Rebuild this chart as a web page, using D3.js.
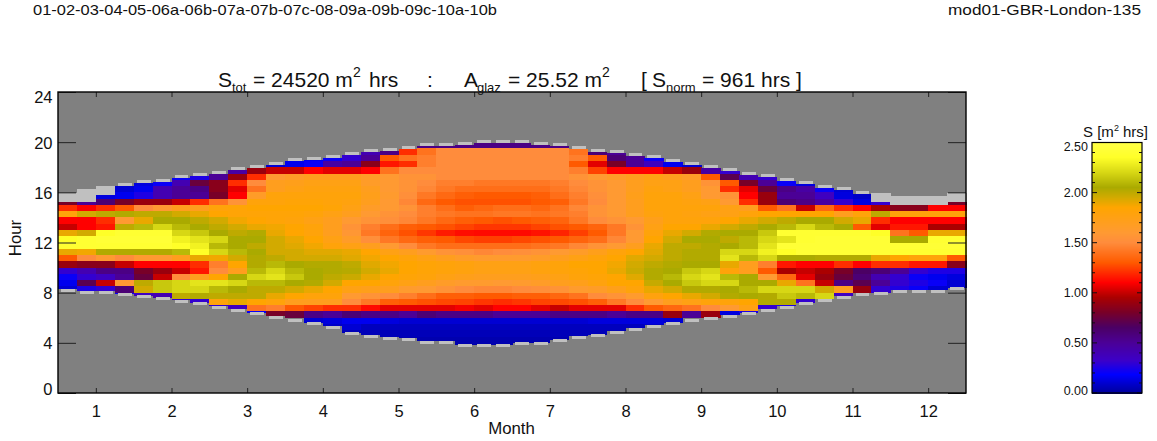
<!DOCTYPE html>
<html><head><meta charset="utf-8">
<script src="https://cdn.jsdelivr.net/npm/d3@7/dist/d3.min.js"></script>
<style>html,body{margin:0;padding:0;background:#fff}svg{display:block}text{font-family:"Liberation Sans",Arial,sans-serif;fill:#111}</style>
</head><body><svg id="c" width="1157" height="441"></svg>
<script>
const _ = null;
const headerLeft = "01-02-03-04-05-06a-06b-07a-07b-07c-08-09a-09b-09c-10a-10b";
const headerRight = "mod01-GBR-London-135";
const monthTicks = [1,2,3,4,5,6,7,8,9,10,11,12];
const hourTicks = [0,4,8,12,16,20,24];
const legendTicks = [0,0.5,1,1.5,2,2.5];
const legendMinor = [0.1,0.2,0.3,0.4,0.6,0.7,0.8,0.9,1.1,1.2,1.3,1.4,1.6,1.7,1.8,1.9,2.1,2.2,2.3,2.4];
const colorStops = [0,0.08,0.18,0.32,0.5,0.65,0.8,0.95,1.1,1.3,1.5,1.6,1.85,1.95,2.05,2.2,2.35,2.5];
const colorValues = ["#0000a0","#0000c8","#0000ff","#3c00c8","#4b0096","#4b0064","#780028","#aa0000","#ff0000","#ff5a00","#ff8c3c","#ff9a32","#ffa500","#d2aa00","#aaaa00","#d7d714","#ffff28","#ffff46"];
const sunsetHour = [15.95,16.25,16.5,16.75,17,17.05,17.4,17.55,17.7,18,18.2,18.4,18.75,18.8,19,19.2,19.45,19.55,19.7,19.95,19.95,20,20.2,20.2,20.2,20,19.95,19.7,19.45,19.35,19.15,19,18.65,18.4,18.2,17.95,17.6,17.45,17.15,16.9,16.6,16.4,16.1,15.95,15.7,15.7,15.7,15.95];
const sunsetRimDepth = [.7,1,.7,.25,.25,.25,.25,.25,.25,.25,.25,.25,.25,.25,.25,.25,.25,.25,.25,.25,.25,.25,.25,.25,.25,.25,.25,.25,.25,.25,.25,.25,.25,.25,.25,.25,.25,.25,.25,.25,.25,.25,.25,.7,.7,.7,.7,.7];
const sunriseHour = [8.05,7.9,7.9,7.7,7.55,7.4,7.2,7,6.7,6.45,6.2,5.9,5.65,5.4,5.1,4.6,4.4,4.25,4.15,3.9,3.9,3.65,3.65,3.65,3.8,3.8,4.05,4.3,4.45,4.7,4.95,5.2,5.4,5.65,5.8,6,6.2,6.45,6.7,7,7.25,7.5,7.75,7.8,8,8,8,8.2];
const rimDepth = 0.25;

const r2000 = [_,_,_,_,_,_,_,_,_,_,_,_,_,_,_,_, _,_,_,_,_,_,.55,.55,.55,_,_,_,_,_,_,_, _,_,_,_,_,_,_,_,_,_,_,_,_,_,_,_];
const r1950 = [_,_,_,_,_,_,_,_,_,_,_,_,_,_,_,_, _,_,_,.55,.55,.55,.55,.55,.55,.55,.55,_,_,_,_,_, _,_,_,_,_,_,_,_,_,_,_,_,_,_,_,_];
const r1900 = [_,_,_,_,_,_,_,_,_,_,_,_,_,_,_,_, .4,.55,1.2,1.4,1.5,1.5,1.5,1.5,1.5,1.5,1.5,1.4,.6,.5,.4,_, _,_,_,_,_,_,_,_,_,_,_,_,_,_,_,_];
const r1850 = [_,_,_,_,_,_,_,_,_,_,_,_,_,.15,.2,.3, .5,1.3,1.4,1.45,1.5,1.5,1.5,1.5,1.5,1.5,1.5,1.45,1.3,.6,.5,.2, _,_,_,_,_,_,_,_,_,_,_,_,_,_,_,_];
const r1800 = [_,_,_,_,_,_,_,_,_,_,_,.1,.15,.2,.45,.5, .85,1.15,1.2,1.45,1.5,1.5,1.5,1.5,1.5,1.5,1.5,1.3,1.05,.8,.5,.35, .15,.1,_,_,_,_,_,_,_,_,_,_,_,_,_,_];
const r1750 = [_,_,_,_,_,_,_,_,_,.45,.9,1,1,1.1,1.05,1.05, 1.1,1.4,1.5,1.5,1.5,1.5,1.5,1.5,1.5,1.5,1.5,1.45,1.25,1.1,1.1,1.1, 1,.9,.45,.3,_,_,_,_,_,_,_,_,_,_,_,_];
const r1700 = [_,_,_,_,_,_,.2,.25,.5,.9,1.2,1.6,1.65,1.7,1.7,1.7, 1.65,1.6,1.55,1.55,1.5,1.5,1.5,1.5,1.5,1.5,1.5,1.55,1.6,1.65,1.7,1.75, 1.7,1.65,1.3,.7,.4,.3,_,_,_,_,_,_,_,_,_,_];
const r1650 = [_,_,_,.1,.12,.2,.4,.75,.85,1.2,1.5,1.7,1.72,1.75,1.75,1.75, 1.65,1.6,1.55,1.5,1.45,1.45,1.42,1.42,1.42,1.42,1.45,1.5,1.55,1.6,1.7,1.75, 1.75,1.7,1.55,1.3,.8,.5,.2,.12,_,_,_,_,_,_,_,_];
const r1600 = [_,_,_,.1,.15,.4,.5,.55,.85,1.05,1.4,1.7,1.75,1.78,1.78,1.78, 1.7,1.6,1.55,1.48,1.42,1.38,1.38,1.38,1.38,1.38,1.42,1.48,1.55,1.6,1.7,1.78, 1.75,1.7,1.6,1.2,1.05,.75,.55,.45,.2,.1,_,_,_,_,_,_];
const r1550 = [_,_,.12,.15,.25,.4,.5,.5,.8,1.1,1.65,1.8,1.8,1.8,1.8,1.8, 1.72,1.62,1.52,1.42,1.36,1.32,1.3,1.3,1.3,1.32,1.38,1.45,1.52,1.6,1.72,1.8, 1.8,1.75,1.6,1.55,1.1,.9,.5,.5,.35,.12,.08,.08,_,_,_,_];
const r1500 = [.8,.5,.6,.8,.9,.9,1,1.2,1.4,1.55,1.8,1.8,1.82,1.82,1.8,1.78, 1.7,1.6,1.48,1.36,1.3,1.28,1.28,1.28,1.28,1.3,1.32,1.42,1.5,1.6,1.7,1.8, 1.8,1.78,1.75,1.6,1.2,.9,.6,.55,.45,.3,.12,.3,.8,.8,.8,.8];
const r1450 = [1.2,1.1,1.2,1.3,1.5,1.6,1.7,1.7,1.8,1.82,1.85,1.85,1.85,1.85,1.82,1.75, 1.65,1.6,1.55,1.45,1.38,1.32,1.35,1.38,1.38,1.35,1.4,1.48,1.55,1.6,1.7,1.8, 1.8,1.8,1.8,1.75,1.7,1.3,1.4,1,1.35,1.2,1.1,.95,.85,.85,1.1,1.1];
const r1400 = [1.8,1.95,2,2.03,2,2,1.95,1.9,1.85,1.82,1.82,1.82,1.82,1.8,1.75,1.7, 1.6,1.55,1.5,1.45,1.42,1.4,1.4,1.42,1.42,1.4,1.42,1.45,1.55,1.6,1.7,1.78, 1.8,1.78,1.75,1.75,1.8,1.85,1.85,1.85,1.85,1.7,1.8,2,1.8,1.8,1.8,1.8];
const r1350 = [1.1,1.1,1.2,1.6,1.9,2.05,2.05,2,1.95,1.88,1.85,1.82,1.8,1.75,1.7,1.6, 1.55,1.52,1.48,1.42,1.36,1.32,1.3,1.28,1.3,1.32,1.34,1.42,1.5,1.55,1.6,1.72, 1.8,1.8,1.8,1.85,1.9,1.95,2,2.05,2.05,1.95,1.9,1.2,1.1,1.1,1.1,1.1];
const r1300 = [1,1.1,1.15,2,2.1,2.2,2.1,2.05,2,1.95,1.9,1.88,1.85,1.8,1.7,1.55, 1.45,1.38,1.32,1.3,1.28,1.25,1.22,1.22,1.22,1.25,1.28,1.3,1.34,1.42,1.55,1.75, 1.85,1.85,1.9,1.95,2,2.05,2.1,2.2,2.1,2.05,1.3,1.05,1.15,1.15,.95,.95];
const r1250 = [1.9,1.95,2.35,2.4,2.4,2.4,2.2,2.15,2.05,2,2.03,1.9,1.85,1.8,1.7,1.58, 1.42,1.34,1.28,1.22,1.16,1.13,1.12,1.12,1.12,1.14,1.18,1.24,1.3,1.42,1.6,1.8, 1.9,1.95,2.03,2.05,2.05,2.15,2.4,2.4,2.4,2.4,2.4,2.35,1.4,1.3,1.9,1.9];
const r1200 = [2.35,2.4,2.42,2.42,2.42,2.42,2.3,2.25,2.2,2.05,2.05,1.95,1.9,1.85,1.75,1.65, 1.52,1.42,1.36,1.32,1.3,1.26,1.24,1.24,1.26,1.28,1.3,1.34,1.38,1.48,1.6,1.85, 1.95,2.05,2.05,2,2.1,2.2,2.25,2.4,2.42,2.42,2.42,2.42,2.05,2.05,2.4,2.4];
const r1150 = [2.4,2.4,2.4,2.4,2.4,2.4,2.35,2.3,2.1,2.05,2,1.95,1.92,1.88,1.8,1.75, 1.7,1.6,1.5,1.42,1.38,1.38,1.38,1.38,1.38,1.4,1.42,1.48,1.55,1.6,1.7,1.9, 2,2,2.03,2.05,2.1,2.25,2.42,2.42,2.42,2.42,2.42,2.42,2.42,2.42,2.42,2.42];
const r1100 = [1.9,1.88,2.03,2.03,2.03,2.03,2.1,2.35,2.2,2.1,2.05,1.95,1.95,1.92,1.92,1.9, 1.85,1.75,1.7,1.62,1.55,1.52,1.48,1.5,1.52,1.55,1.6,1.65,1.72,1.8,1.85,1.92, 2,2.03,2.03,2.2,2.2,2.3,2.35,2.42,2.42,2.42,2.42,2.42,2.4,2.4,2.4,2.4];
const r1050 = [1.3,1.5,1.6,1.5,1.6,1.6,1.7,1.9,1.88,1.95,2.03,2,1.95,1.95,1.95,1.92, 1.88,1.85,1.8,1.75,1.7,1.65,1.62,1.62,1.62,1.65,1.7,1.75,1.8,1.85,1.92,1.95, 2,2.03,2.03,2.25,2.1,2.2,2.05,2.05,2.03,2.03,2.03,1.9,1.85,1.8,1.8,1.3];
const r1000 = [.9,.85,.85,1,1.1,1.1,1.1,1.2,1.45,1.85,2.03,2.1,2.05,2.03,2.03,2, 1.92,1.88,1.85,1.82,1.8,1.78,1.75,1.75,1.75,1.78,1.8,1.85,1.85,1.88,1.95,2, 2.03,2.05,2.05,1.9,1.7,1.45,1.15,1.1,1.1,1.2,1.1,1.2,1.2,1.15,1.15,.85];
const r0950 = [.3,.4,.55,.55,.8,.9,1,1.15,1.5,1.7,2.1,2.2,2.1,2.05,2.03,2.02, 1.95,1.9,1.85,1.82,1.8,1.78,1.75,1.75,1.75,1.78,1.8,1.82,1.85,1.9,1.97,2.03, 2.05,2.15,2.2,1.8,1.7,1.3,.95,1,.95,.8,.65,.6,.5,.3,.25,.25];
const r0900 = [.2,.3,.35,.5,.75,1,1.5,1.7,1.85,2.05,2.2,2.25,2.15,2.05,2,1.97, 1.9,1.85,1.82,1.8,1.75,1.72,1.7,1.7,1.7,1.72,1.75,1.8,1.82,1.85,1.92,2.03, 2.1,2.2,2.25,2.1,2.05,1.6,1.35,1.05,.9,.75,.6,.4,.3,.2,.15,.12];
const r0850 = [.15,.7,1,1.6,2,2.15,2.2,2.25,2.25,2.2,2.1,2.1,2.05,2.03,1.95,1.85, 1.85,1.8,1.75,1.7,1.65,1.62,1.62,1.6,1.62,1.65,1.7,1.72,1.78,1.85,1.85,1.98, 2.05,2.15,2.2,2.2,2.05,2.05,1.9,1.4,1,.55,.7,.5,.3,.25,.2,.1];
const r0800 = [.1,.25,.3,.6,1.95,2.15,2.2,2.2,2.1,2.05,2,2,1.95,1.9,1.85,1.75, 1.72,1.7,1.62,1.6,1.55,1.5,1.48,1.48,1.5,1.52,1.55,1.62,1.65,1.72,1.8,1.9, 1.95,2.03,2.03,2.05,2.1,2.2,2.2,2.2,1.95,1.7,.9,.3,.25,.2,.1,.1];
const r0750 = [_,_,_,.2,.35,.4,2,2.03,2,2,2,1.9,1.85,1.8,1.8,1.6, 1.55,1.5,1.45,1.38,1.32,1.32,1.3,1.3,1.32,1.32,1.35,1.4,1.5,1.55,1.62,1.78, 1.85,1.9,1.95,2.03,2.05,2.03,2.15,2.1,2.2,.35,.35,.3,_,_,_,_];
const r0700 = [_,_,_,_,_,_,.3,.3,1.8,1.9,1.85,1.8,1.7,1.7,1.7,1.5, 1.42,1.32,1.3,1.28,1.26,1.25,1.22,1.2,1.22,1.25,1.26,1.28,1.32,1.42,1.5,1.6, 1.7,1.75,1.8,1.8,1.85,2.03,2.03,.3,_,_,_,_,_,_,_,_];
const r0650 = [_,_,_,_,_,_,_,_,.3,.35,1.4,1.45,1.3,1.25,1.2,1.2, 1.12,1.05,1.05,1.05,1.05,1.08,1.05,1.1,1.1,1.05,1,1.05,1.05,1.05,1.2,1.3, 1.35,1.4,1.5,1.6,1.75,.3,.25,_,_,_,_,_,_,_,_,_];
const r0600 = [_,_,_,_,_,_,_,_,_,_,.2,.8,.75,.55,.5,.6, .55,.55,.5,.6,.55,.55,.55,.5,.5,.5,.55,.55,.55,.5,.55,.55, .9,.5,.9,.12,.25,_,_,_,_,_,_,_,_,_,_,_];
const r0550 = [_,_,_,_,_,_,_,_,_,_,_,_,_,.1,.12,.15, .15,.12,.1,.1,.1,.1,.1,.1,.1,.1,.1,.1,.12,.12,.12,.12, .1,_,_,_,_,_,_,_,_,_,_,_,_,_,_,_];
const r0500 = [_,_,_,_,_,_,_,_,_,_,_,_,_,_,.08,.1, .06,.06,.06,.06,.06,.06,.06,.06,.06,.06,.06,.06,.06,.06,.06,.08, _,_,_,_,_,_,_,_,_,_,_,_,_,_,_,_];
const r0450 = [_,_,_,_,_,_,_,_,_,_,_,_,_,_,_,.05, .05,.05,.05,.05,.05,.05,.05,.05,.05,.05,.05,.05,.05,.05,_,_, _,_,_,_,_,_,_,_,_,_,_,_,_,_,_,_];
const r0400 = [_,_,_,_,_,_,_,_,_,_,_,_,_,_,_,_, _,_,.03,.03,.03,.03,.03,.03,.03,.03,.03,_,_,_,_,_, _,_,_,_,_,_,_,_,_,_,_,_,_,_,_,_];
const r0350 = [_,_,_,_,_,_,_,_,_,_,_,_,_,_,_,_, _,_,_,_,_,.03,.03,.03,_,_,_,_,_,_,_,_, _,_,_,_,_,_,_,_,_,_,_,_,_,_,_,_];
const rowHours = [20,19.5,19,18.5,18,17.5,17,16.5,16,15.5,15,14.5,14,13.5,13,12.5,12,11.5,11,10.5,10,9.5,9,8.5,8,7.5,7,6.5,6,5.5,5,4.5,4,3.5];
const rows = [r2000,r1950,r1900,r1850,r1800,r1750,r1700,r1650,r1600,r1550,r1500,r1450,r1400,r1350,r1300,r1250,r1200,r1150,r1100,r1050,r1000,r0950,r0900,r0850,r0800,r0750,r0700,r0650,r0600,r0550,r0500,r0450,r0400,r0350];

const svg = d3.select("#c");
const plot = {l:58,r:966,t:92,b:393};
const x = d3.scaleLinear().domain([0.5,12.5]).range([plot.l,plot.r]);
const y = d3.scaleLinear().domain([0,24]).range([plot.b,plot.t]);
const color = d3.scaleLinear().domain(colorStops).range(colorValues).clamp(true);
const colX = k => x(0.5+k/4);

svg.append("text").attr("x",33).attr("y",14.5).attr("font-size",14.5).attr("textLength",464).attr("lengthAdjust","spacingAndGlyphs").text(headerLeft);
svg.append("text").attr("x",948).attr("y",14.5).attr("font-size",14.5).attr("textLength",193).attr("lengthAdjust","spacingAndGlyphs").text(headerRight);

svg.append("rect").attr("x",plot.l).attr("y",plot.t).attr("width",plot.r-plot.l).attr("height",plot.b-plot.t).attr("fill","#808080");

const cells=[];
rows.forEach((row,ri)=>row.forEach((v,k)=>{
  if(v===null) return;
  const top=Math.min(rowHours[ri]+.5,sunsetHour[k]-sunsetRimDepth[k]);
  const bot=Math.max(rowHours[ri],sunriseHour[k]+rimDepth);
  if(top>bot) cells.push({k,top,bot,v});
}));
const heat=svg.append("g").attr("shape-rendering","crispEdges");
heat.selectAll("rect").data(cells).join("rect")
  .attr("x",d=>colX(d.k)).attr("width",d=>colX(d.k+1)-colX(d.k)+.5)
  .attr("y",d=>y(d.top)).attr("height",d=>y(d.bot)-y(d.top)+.5)
  .attr("fill",d=>color(d.v));
const rim=svg.append("g").attr("fill","#c0c0c0").attr("shape-rendering","crispEdges");
rim.selectAll("rect.t").data(sunsetHour).join("rect").attr("class","t")
  .attr("x",(d,k)=>colX(k)+(sunsetRimDepth[k]>.3?0:3)).attr("width",(d,k)=>colX(1)-colX(0)-(sunsetRimDepth[k]>.3?-.5:5))
  .attr("y",d=>y(d)).attr("height",(d,k)=>y(d-sunsetRimDepth[k])-y(d));
rim.selectAll("rect.b").data(sunriseHour).join("rect").attr("class","b")
  .attr("x",(d,k)=>colX(k)+3).attr("width",colX(1)-colX(0)-5)
  .attr("y",d=>y(d+rimDepth)).attr("height",d=>y(d)-y(d+rimDepth));

function styleAxis(g){g.select(".domain").remove();g.selectAll("line").attr("stroke","#222").attr("stroke-width",1);g.selectAll("text").attr("font-size",16.5).attr("fill","#111").attr("font-family",'"Liberation Sans",Arial,sans-serif');}
svg.append("g").attr("transform",`translate(0,${plot.b})`).call(d3.axisBottom(x).tickValues(monthTicks).tickFormat(d3.format("d")).tickSize(-5).tickPadding(12)).call(styleAxis);
svg.append("g").attr("transform",`translate(0,${plot.t})`).call(d3.axisTop(x).tickValues(monthTicks).tickFormat("").tickSize(-5)).call(styleAxis);
svg.append("g").attr("transform",`translate(${plot.l},0)`).call(d3.axisLeft(y).tickValues(hourTicks).tickFormat(d3.format("d")).tickSize(-18).tickPadding(5.5)).call(styleAxis)
  .selectAll(".tick text").attr("dy",d=>d===24?"0.62em":(d===0?"0.08em":"0.36em"));
svg.append("g").attr("transform",`translate(${plot.r},0)`).call(d3.axisRight(y).tickValues(hourTicks).tickFormat("").tickSize(-18)).call(styleAxis);
svg.append("rect").attr("x",plot.l).attr("y",plot.t).attr("width",plot.r-plot.l).attr("height",plot.b-plot.t).attr("fill","none").attr("stroke","#000").attr("stroke-width",1.4);
svg.append("text").attr("x",511.5).attr("y",434).attr("font-size",16.8).attr("text-anchor","middle").text("Month");
svg.append("text").attr("transform","translate(21,238) rotate(-90)").attr("font-size",16.8).attr("text-anchor","middle").text("Hour");

const titleParts=[[218,87,21,"S"],[232,92,13,"tot"],[253,87,21,"= 24520 m"],[353,77,14,"2"],[369,87,21,"hrs"],[427,87,21,":"],[464,87,21,"A"],[477,92,13,"glaz"],[508,87,21,"= 25.52 m"],[602,77,14,"2"],[641,87,21,"["],[652,87,21,"S"],[666,92,13,"norm"],[702,87,21,"= 961 hrs ]"]];
svg.append("g").selectAll("text").data(titleParts).join("text").attr("x",d=>d[0]).attr("y",d=>d[1]).attr("font-size",d=>d[2]).text(d=>d[3]);

const leg={l:1092,r:1142};
const ly=d3.scaleLinear().domain([0,2.5]).range([393,142.5]);
svg.append("g").attr("shape-rendering","crispEdges").selectAll("rect").data(d3.range(0,2.5,0.01)).join("rect")
  .attr("x",leg.l).attr("width",leg.r-leg.l).attr("y",d=>ly(d+0.01)).attr("height",d=>ly(d)-ly(d+0.01)+.5).attr("fill",d=>color(d));
const legG=svg.append("g");
function ticks(vals,len){legG.selectAll(null).data(vals).join("line").attr("x1",leg.l).attr("x2",leg.l+len).attr("y1",d=>ly(d)).attr("y2",d=>ly(d)).attr("stroke","#111");
 legG.selectAll(null).data(vals).join("line").attr("x1",leg.r-len).attr("x2",leg.r).attr("y1",d=>ly(d)).attr("y2",d=>ly(d)).attr("stroke","#111");}
ticks(legendTicks,5);ticks(legendMinor,3);
legG.selectAll("text").data(legendTicks).join("text").attr("x",1088).attr("text-anchor","end").attr("font-size",12.5)
  .attr("y",d=>d===0?394.5:(d===2.5?150.5:ly(d)+4.5)).text(d=>d3.format(".2f")(d));
svg.append("rect").attr("x",leg.l).attr("y",142.5).attr("width",leg.r-leg.l).attr("height",250.5).attr("fill","none").attr("stroke","#000").attr("stroke-width",1.2);
const legTitle=[[1083,137,15,"S [m"],[1114,131,9,"2"],[1123,137,15,"hrs]"]];
svg.append("g").selectAll("text").data(legTitle).join("text").attr("x",d=>d[0]).attr("y",d=>d[1]).attr("font-size",d=>d[2]).text(d=>d[3]);
</script></body></html>
